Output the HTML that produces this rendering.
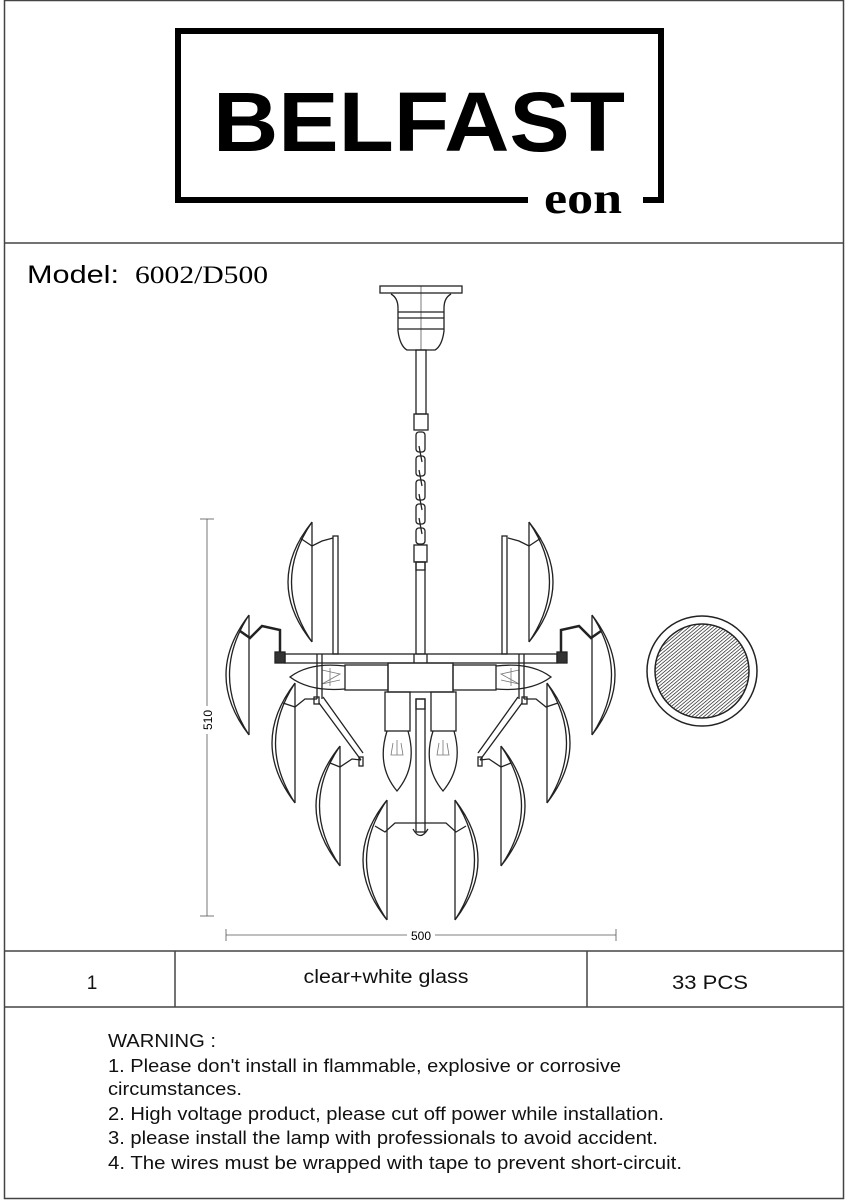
<!DOCTYPE html>
<html><head><meta charset="utf-8"><style>
html,body{margin:0;padding:0;background:#fff}
svg{display:block}
</style></head><body>
<svg width="847" height="1200" viewBox="0 0 847 1200" xmlns="http://www.w3.org/2000/svg">
<rect width="847" height="1200" fill="#fff"/>
<g stroke="#444" stroke-width="1.5" fill="none">
<rect x="4.5" y="0.5" width="839" height="1198"/>
<line x1="4" y1="243" x2="844" y2="243"/>
<line x1="4" y1="951" x2="844" y2="951"/>
<line x1="4" y1="1007" x2="844" y2="1007"/>
<line x1="175" y1="951" x2="175" y2="1007"/>
<line x1="587" y1="951" x2="587" y2="1007"/>
</g>
<path d="M528,200 L178,200 L178,31 L661,31 L661,200 L643,200" stroke="#000" stroke-width="6" fill="none"/>
<text x="419" y="151" text-anchor="middle" font-family="Liberation Sans, sans-serif" font-weight="bold" font-size="84" textLength="412" lengthAdjust="spacingAndGlyphs">BELFAST</text>
<text x="583" y="213" text-anchor="middle" font-family="Liberation Serif, serif" font-weight="bold" font-size="44" textLength="78" lengthAdjust="spacingAndGlyphs">eon</text>
<text x="27" y="283" font-family="Liberation Sans, sans-serif" font-size="25" textLength="92" lengthAdjust="spacingAndGlyphs">Model:</text>
<text x="135" y="283" font-family="Liberation Serif, serif" font-size="25" textLength="133" lengthAdjust="spacingAndGlyphs">6002/D500</text>

<g stroke="#222" stroke-width="1.3" fill="none">
<!-- canopy -->
<rect x="380" y="286" width="82" height="7"/>
<path d="M391,294 Q398,298 398,308 L398,331 Q400,346 407,350 L435,350 Q442,346 444,331 L444,308 Q444,298 451,294"/>
<line x1="398" y1="312" x2="444" y2="312"/><line x1="398" y1="318" x2="444" y2="318"/><line x1="398" y1="329" x2="444" y2="329"/>
<line x1="421" y1="286" x2="421" y2="350" stroke-width="0.6"/>
<rect x="416" y="350" width="10" height="64"/>
<rect x="414" y="414" width="14" height="16"/>
<!-- chain -->
<rect x="416" y="432" width="9" height="20" rx="3"/>
<rect x="416" y="456" width="9" height="20" rx="3"/>
<rect x="416" y="480" width="9" height="20" rx="3"/>
<rect x="416" y="504" width="9" height="20" rx="3"/>
<rect x="416" y="528" width="9" height="16" rx="3"/>
<line x1="419" y1="446" x2="422" y2="462"/><line x1="419" y1="470" x2="422" y2="486"/><line x1="419" y1="494" x2="422" y2="510"/><line x1="419" y1="518" x2="422" y2="534"/>
<rect x="414" y="545" width="13" height="17"/>
<rect x="416" y="562" width="9" height="92"/>
<rect x="416" y="562" width="9" height="8"/>
<!-- arm -->
<rect x="285" y="654" width="272" height="9"/>
<rect x="275" y="652" width="10" height="11" fill="#333"/>
<rect x="557" y="652" width="10" height="11" fill="#333"/>
<line x1="414" y1="654" x2="414" y2="663"/><line x1="427" y1="654" x2="427" y2="663"/>
<!-- vertical rods -->
<rect x="333" y="536" width="5" height="118"/>
<rect x="502" y="536" width="5" height="118"/>
<!-- block and sockets -->
<rect x="388" y="663" width="65" height="29"/>
<rect x="345" y="665" width="43" height="25"/>
<rect x="453" y="665" width="43" height="25"/>
<path d="M345,666 Q310,662 290,677 Q310,692 345,689"/>
<path d="M496,666 Q531,662 551,677 Q531,692 496,689"/>
<path d="M322,670 L340,674 L322,684 M322,684 L340,680 M330,668 L330,686" stroke-width="0.8" stroke="#777"/>
<path d="M519,670 L501,674 L519,684 M519,684 L501,680 M511,668 L511,686" stroke-width="0.8" stroke="#777"/>
<line x1="317" y1="654" x2="317" y2="699"/><line x1="322" y1="654" x2="322" y2="699"/>
<line x1="519" y1="654" x2="519" y2="699"/><line x1="524" y1="654" x2="524" y2="699"/>
<!-- down bulbs -->
<rect x="385" y="692" width="25" height="39"/>
<rect x="431" y="692" width="25" height="39"/>
<path d="M387,731 Q376,766 397,791 Q418,766 408,731"/>
<path d="M433,731 Q422,766 443,791 Q464,766 454,731"/>
<path d="M393,743 L391,755 L403,755 L401,743 M397,740 L397,755" stroke-width="0.8" stroke="#777"/>
<path d="M439,743 L437,755 L449,755 L447,743 M443,740 L443,755" stroke-width="0.8" stroke="#777"/>
<!-- lower rod -->
<rect x="416" y="699" width="9" height="133"/>
<rect x="416" y="699" width="9" height="10"/>
<path d="M413,829 Q420,842 428,829"/>
<!-- struts -->
<line x1="319" y1="703" x2="361" y2="760"/>
<line x1="323" y1="697" x2="363" y2="753"/>
<line x1="522" y1="703" x2="480" y2="760"/>
<line x1="518" y1="697" x2="478" y2="753"/>
<!-- wires -->
<path d="M300,538 L312,546 L322,541 L333,538"/>
<path d="M541,538 L529,546 L519,541 L508,538"/>
<path d="M240,631 L250,638 L262,626 L280,630 L280,652" stroke-width="2.5"/>
<path d="M601,631 L591,638 L579,626 L561,630 L561,652" stroke-width="2.5"/>
<path d="M283,703 L295,707 L305,699 L317,699"/>
<path d="M558,703 L546,707 L536,699 L524,699"/>
<rect x="314" y="697" width="5" height="7"/><rect x="522" y="697" width="5" height="7"/>
<path d="M330,763 L340,767 L352,759 L361,760"/>
<path d="M511,763 L501,767 L489,759 L480,760"/>
<rect x="359" y="757" width="4" height="9"/><rect x="478" y="757" width="4" height="9"/>
<path d="M375,826 L385,832 L395,823 L446,823 L456,832 L466,826"/>
<!-- blades left -->
<path d="M312,522 Q264,582 312,642 M312,522 Q271,582 312,642 M312,522 L312,642"/>
<path d="M249,615 Q203,675 249,735 M249,615 Q210,675 249,735 M249,615 L249,735"/>
<path d="M295,683 Q249,743 295,803 M295,683 Q256,743 295,803 M295,683 L295,803"/>
<path d="M340,746 Q292,806 340,866 M340,746 Q299,806 340,866 M340,746 L340,866"/>
<path d="M387,800 Q339,860 387,920 M387,800 Q346,860 387,920 M387,800 L387,920"/>
<!-- blades right -->
<path d="M529,522 Q577,582 529,642 M529,522 Q570,582 529,642 M529,522 L529,642"/>
<path d="M592,615 Q638,675 592,735 M592,615 Q631,675 592,735 M592,615 L592,735"/>
<path d="M547,683 Q593,743 547,803 M547,683 Q586,743 547,803 M547,683 L547,803"/>
<path d="M501,746 Q549,806 501,866 M501,746 Q542,806 501,866 M501,746 L501,866"/>
<path d="M455,800 Q501,860 455,920 M455,800 Q494,860 455,920 M455,800 L455,920"/>
</g>
<g stroke="#555" stroke-width="0.8" fill="none">
<line x1="207" y1="519" x2="207" y2="916"/>
<line x1="200" y1="519" x2="214" y2="519"/><line x1="200" y1="916" x2="214" y2="916"/>
<line x1="226" y1="935" x2="616" y2="935"/>
<line x1="226" y1="929" x2="226" y2="941"/><line x1="616" y1="929" x2="616" y2="941"/>
</g>
<rect x="198" y="706" width="18" height="28" fill="#fff"/>
<text transform="translate(212,720) rotate(-90)" text-anchor="middle" font-family="Liberation Sans, sans-serif" font-size="12">510</text>
<rect x="407" y="928" width="28" height="14" fill="#fff"/>
<text x="421" y="940" text-anchor="middle" font-family="Liberation Sans, sans-serif" font-size="12">500</text>
<defs><pattern id="h" width="2.6" height="2.6" patternUnits="userSpaceOnUse" patternTransform="rotate(50)"><line x1="0" y1="0" x2="0" y2="2.6" stroke="#222" stroke-width="1.4"/></pattern></defs>
<circle cx="702" cy="671" r="55" fill="#fff" stroke="#222" stroke-width="1.5"/>
<circle cx="702" cy="671" r="47" fill="url(#h)" stroke="#222" stroke-width="1.5"/>
<g font-family="Liberation Sans, sans-serif" font-size="19" fill="#111">
<text x="92" y="989" text-anchor="middle">1</text>
<text x="386" y="983" text-anchor="middle" textLength="165" lengthAdjust="spacingAndGlyphs">clear+white glass</text>
<text x="710" y="989" text-anchor="middle" textLength="76" lengthAdjust="spacingAndGlyphs">33 PCS</text>
</g>
<g font-family="Liberation Sans, sans-serif" font-size="18" fill="#111">
<text x="108" y="1047" textLength="108" lengthAdjust="spacingAndGlyphs">WARNING :</text>
<text x="108" y="1072" textLength="513" lengthAdjust="spacingAndGlyphs">1. Please don't install in flammable, explosive or corrosive</text>
<text x="108" y="1095" textLength="134" lengthAdjust="spacingAndGlyphs">circumstances.</text>
<text x="108" y="1120" textLength="556" lengthAdjust="spacingAndGlyphs">2. High voltage product, please cut off power while installation.</text>
<text x="108" y="1144" textLength="550" lengthAdjust="spacingAndGlyphs">3. please install the lamp with professionals to avoid accident.</text>
<text x="108" y="1169" textLength="574" lengthAdjust="spacingAndGlyphs">4. The wires  must be wrapped with tape to prevent short-circuit.</text>
</g>
</svg>
</body></html>
